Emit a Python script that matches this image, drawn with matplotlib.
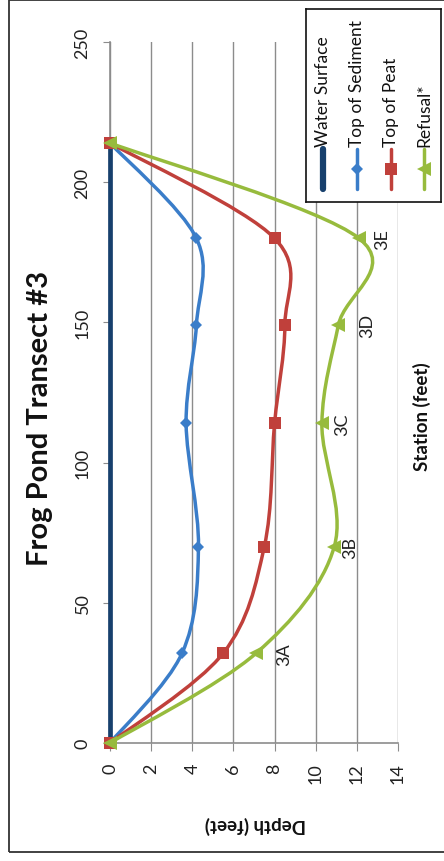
import matplotlib
matplotlib.use("Agg")
import matplotlib.pyplot as plt
import numpy as np
from matplotlib.path import Path
from matplotlib.patches import PathPatch, Rectangle

plt.rcParams['font.family'] = ['Lato', 'DejaVu Sans']

# data
station = [0, 32, 70, 114, 149, 180, 214]
water_station = [0, 214]
water_depth = [0, 0]
sediment = [0, 3.5, 4.3, 3.7, 4.2, 4.2, 0]
peat = [0, 5.5, 7.5, 8.0, 8.5, 8.0, 0]
refusal = [0, 7.1, 10.9, 10.3, 11.1, 12.1, 0]
point_labels = ['3A', '3B', '3C', '3D', '3E']
depth_ticks = [0, 2, 4, 6, 8, 10, 12, 14]
station_ticks = [0, 50, 100, 150, 200, 250]

c_water = '#17406d'
c_sed = '#3a7dc9'
c_peat = '#c0403b'
c_ref = '#97bb3d'
grid_c = '#8c8c8c'
W, H = 444, 862


def smooth_path(xs, ys):
    # excel-like smoothed line (catmull-rom as cubic bezier)
    pts = np.column_stack([xs, ys]).astype(float)
    n = len(pts)
    verts = [pts[0]]
    codes = [Path.MOVETO]
    for i in range(n - 1):
        p0 = pts[max(i - 1, 0)]
        p1 = pts[i]
        p2 = pts[i + 1]
        p3 = pts[min(i + 2, n - 1)]
        verts += [p1 + (p2 - p0) / 6, p2 - (p3 - p1) / 6, p2]
        codes += [Path.CURVE4] * 3
    return Path(verts, codes)


fig = plt.figure(figsize=(W / 100, H / 100), dpi=100)
fig.patches.append(Rectangle((9 / W, 1 - 853 / H), 1.0, 852 / H, transform=fig.transFigure,
                             fill=False, edgecolor='#333333', lw=1.3))

ax = fig.add_axes([110 / W, 1 - 744 / H, 288 / W, 701 / H])
ax.set_xlim(0, 14)
ax.set_ylim(0, 250)
ax.set_xticks(depth_ticks)
ax.set_yticks(station_ticks)
ax.set_xticklabels([str(t) for t in depth_ticks], rotation=90, fontsize=13, color='#222222')
ax.set_yticklabels([str(t) for t in station_ticks], rotation=90, va='center', fontsize=13, color='#222222')
ax.tick_params(axis='x', length=6, color=grid_c, pad=8)
ax.tick_params(axis='y', length=5, color=grid_c, pad=9)
ax.xaxis.grid(True, color=grid_c, lw=1)
ax.set_axisbelow(True)
for sp in ['top', 'right']:
    ax.spines[sp].set_visible(False)
for sp in ['left', 'bottom']:
    ax.spines[sp].set_color(grid_c)
    ax.spines[sp].set_linewidth(1.2)

ax.plot(water_depth, water_station, color=c_water, lw=3.4, solid_capstyle='butt', clip_on=False, zorder=3)

series = [(sediment, c_sed, 'D', 6.5), (peat, c_peat, 's', 9), (refusal, c_ref, '<', 9.5)]
for k, (vals, col, mk, ms) in enumerate(series):
    ax.add_patch(PathPatch(smooth_path(vals, station), fill=False, edgecolor=col, lw=2.5,
                           capstyle='round', joinstyle='round', zorder=4 + k, clip_on=False))
    ax.plot(vals, station, ls='none', marker=mk, ms=ms, color=col, mec=col, mew=0,
            zorder=4.5 + k, clip_on=False)

label_dx = [28, 16, 20, 29, 23]
for lbl, d, s, dx in zip(point_labels, refusal[1:6], station[1:6], label_dx):
    ax.annotate(lbl, (d, s), xytext=(dx * 0.72, 0), textcoords='offset points',
                rotation=90, ha='center', va='center', fontsize=13, color='#222222')

fig.text(40 / W, 1 - 418 / H, 'Frog Pond Transect #3', rotation=90, ha='center', va='center',
         fontsize=21, fontweight='bold', color='#111111')
fig.text(422 / W, 1 - 417 / H, 'Station (feet)', rotation=90, ha='center', va='center',
         fontsize=13.5, fontweight='bold', color='#111111')
fig.text(255 / W, 1 - 825 / H, 'Depth (feet)', rotation=180, ha='center', va='center',
         fontsize=13.5, fontweight='bold', color='#111111')

# legend, drawn by hand because it is rotated
lax = fig.add_axes([306 / W, 1 - 203 / H, 135 / W, 193 / H])
lax.set_xlim(0, 135)
lax.set_ylim(0, 193)
lax.set_xticks([])
lax.set_yticks([])
for sp in lax.spines.values():
    sp.set_color('#111111')
    sp.set_linewidth(1.2)
names = ['Water Surface', 'Top of Sediment', 'Top of Peat', 'Refusal*']
cols = [c_water, c_sed, c_peat, c_ref]
marks = [None, 'D', 's', '<']
sizes = [0, 6.5, 9, 9.5]
lx = [17, 51, 85, 118]
for name, col, mk, ms, x in zip(names, cols, marks, sizes, lx):
    lw = 4.5 if mk is None else 2.5
    lax.plot([x, x], [13, 53], color=col, lw=lw, solid_capstyle='round')
    if mk:
        lax.plot([x], [33], marker=mk, ms=ms, color=col, mew=0)
    lax.text(x, 56, name, rotation=90, ha='center', va='bottom', fontsize=12.5, color='#111111')

fig.savefig('out.png', dpi=100, facecolor='white')
